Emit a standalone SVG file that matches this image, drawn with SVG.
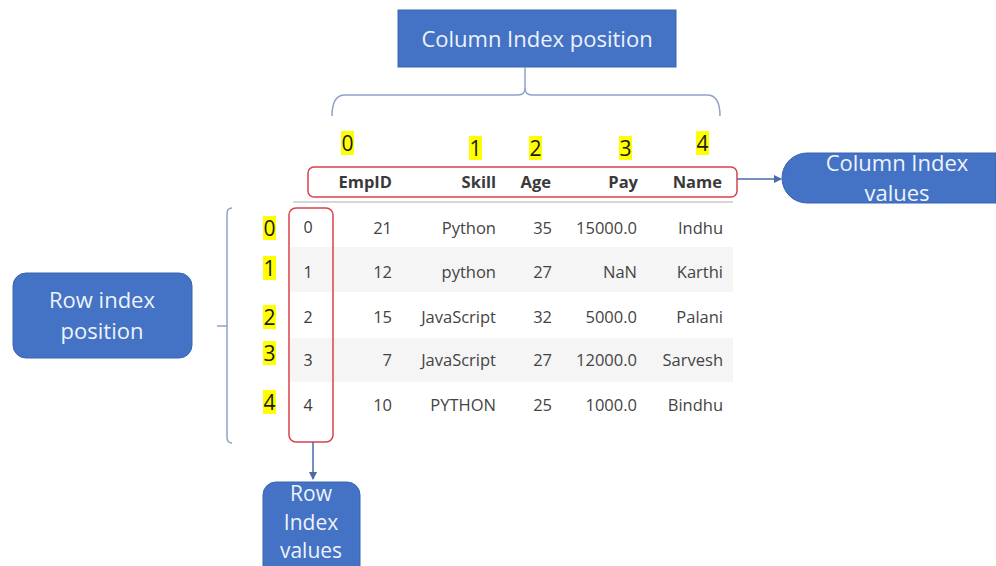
<svg xmlns="http://www.w3.org/2000/svg" width="996" height="566" viewBox="0 0 996 566">
<defs>
<style>
.box{fill:#4472c4;stroke:#3a64b0;stroke-width:1}
.bt{font-family:"Open Sans","Liberation Sans",sans-serif;font-size:22px;fill:#eef3fb;text-anchor:middle}
.bs{font-family:"Open Sans","Liberation Sans",sans-serif;font-size:21px;fill:#eef3fb;text-anchor:middle}
.hl{fill:#ffff00}
.hn{font-family:"Open Sans","Liberation Sans",sans-serif;font-size:21px;fill:#1a1a1a;text-anchor:middle}
.hd{font-family:"Open Sans","Liberation Sans",sans-serif;font-size:16.5px;font-weight:bold;fill:#3a3a3a;text-anchor:end}
.td{font-family:"Open Sans","Liberation Sans",sans-serif;font-size:16.5px;fill:#444444;text-anchor:end}
.ti{font-family:"Open Sans","Liberation Sans",sans-serif;font-size:16px;fill:#3a3a3a;text-anchor:middle}
.br{fill:none;stroke:#8fa2c8;stroke-width:1.5}
.red{fill:none;stroke:#d9424c;stroke-width:1.5}
.ar{fill:none;stroke:#4a6aa8;stroke-width:1.5}
</style>
<marker id="ah" markerWidth="8" markerHeight="8" refX="7" refY="4" orient="auto" markerUnits="userSpaceOnUse">
<path d="M0,0 L8,4 L0,8 Z" fill="#4a6aa8"/>
</marker>
</defs>
<rect width="996" height="566" fill="#ffffff"/>

<g id="table">
<rect x="290" y="247" width="443" height="45" fill="#f5f5f5"/>
<rect x="290" y="338" width="443" height="44" fill="#f5f5f5"/>
<line x1="293" y1="202" x2="733" y2="202" stroke="#d6d6d6" stroke-width="2"/>
<text class="hd" x="392" y="188">EmpID</text>
<text class="hd" x="496" y="188">Skill</text>
<text class="hd" x="551" y="188">Age</text>
<text class="hd" x="638" y="188">Pay</text>
<text class="hd" x="722" y="188">Name</text>
<g>
<text class="td" x="392" y="234">21</text><text class="td" x="496" y="234">Python</text><text class="td" x="552" y="234">35</text><text class="td" x="637" y="234">15000.0</text><text class="td" x="723" y="234">Indhu</text>
<text class="td" x="392" y="278">12</text><text class="td" x="496" y="278">python</text><text class="td" x="552" y="278">27</text><text class="td" x="637" y="278">NaN</text><text class="td" x="723" y="278">Karthi</text>
<text class="td" x="392" y="323">15</text><text class="td" x="496" y="323">JavaScript</text><text class="td" x="552" y="323">32</text><text class="td" x="637" y="323">5000.0</text><text class="td" x="723" y="323">Palani</text>
<text class="td" x="392" y="366">7</text><text class="td" x="496" y="366">JavaScript</text><text class="td" x="552" y="366">27</text><text class="td" x="637" y="366">12000.0</text><text class="td" x="723" y="366">Sarvesh</text>
<text class="td" x="392" y="411">10</text><text class="td" x="496" y="411">PYTHON</text><text class="td" x="552" y="411">25</text><text class="td" x="637" y="411">1000.0</text><text class="td" x="723" y="411">Bindhu</text>
</g>
<text class="ti" x="308" y="233">0</text>
<text class="ti" x="308" y="278">1</text>
<text class="ti" x="308" y="323">2</text>
<text class="ti" x="308" y="366">3</text>
<text class="ti" x="308" y="411">4</text>
</g>

<g id="col-positions">
<rect class="hl" x="341" y="131" width="13" height="24"/><text class="hn" x="347.5" y="151">0</text>
<rect class="hl" x="469" y="136" width="13" height="24"/><text class="hn" x="475.5" y="156">1</text>
<rect class="hl" x="529" y="136" width="13" height="24"/><text class="hn" x="535.5" y="156">2</text>
<rect class="hl" x="619" y="136" width="13" height="24"/><text class="hn" x="625.5" y="156">3</text>
<rect class="hl" x="696" y="131" width="13" height="24"/><text class="hn" x="702.5" y="151">4</text>
</g>

<g id="row-positions">
<rect class="hl" x="263" y="216" width="13" height="24"/><text class="hn" x="269.5" y="236">0</text>
<rect class="hl" x="263" y="256" width="13" height="24"/><text class="hn" x="269.5" y="276">1</text>
<rect class="hl" x="263" y="305" width="13" height="24"/><text class="hn" x="269.5" y="325">2</text>
<rect class="hl" x="263" y="341" width="13" height="24"/><text class="hn" x="269.5" y="361">3</text>
<rect class="hl" x="263" y="390" width="13" height="24"/><text class="hn" x="269.5" y="410">4</text>
</g>

<g id="col-index-frame"><rect class="red" x="308" y="167" width="429" height="30" rx="6"/></g>
<g id="row-index-frame"><rect class="red" x="289" y="208" width="44" height="234" rx="7"/></g>

<g id="col-index-position">
<rect class="box" x="398" y="10" width="278" height="57"/>
<text class="bt" x="537" y="47">Column Index position</text>
</g>

<g id="col-index-values">
<path class="box" d="M807,153 H996 V203 H807 A25,25 0 0 1 782,178 A25,25 0 0 1 807,153 Z"/>
<text class="bt" x="897" y="171">Column Index</text>
<text class="bt" x="897" y="201">values</text>
</g>

<g id="row-index-position">
<rect class="box" x="13" y="273" width="179" height="85" rx="13"/>
<text class="bt" x="102" y="308">Row index</text>
<text class="bt" x="102" y="339">position</text>
</g>

<g id="row-index-values">
<path class="box" d="M276,482 H347 A13,13 0 0 1 360,495 V570 H263 V495 A13,13 0 0 1 276,482 Z"/>
<text class="bs" x="311" y="501">Row</text>
<text class="bs" x="311" y="530">Index</text>
<text class="bs" x="311" y="558">values</text>
</g>

<g id="connectors">
<path class="br" d="M332,116 Q332,95 345,95 H518 Q525,95 525,88 V67 M525,88 Q525,95 532,95 H707 Q720,95 720,116"/>
<path class="br" d="M232,208 Q227,208 227,214 V437 Q227,443 232,443 M217,326 H227"/>
<line class="ar" x1="737" y1="179" x2="781" y2="179" marker-end="url(#ah)"/>
<line class="ar" x1="313" y1="442" x2="313" y2="479" marker-end="url(#ah)"/>
</g>
</svg>
